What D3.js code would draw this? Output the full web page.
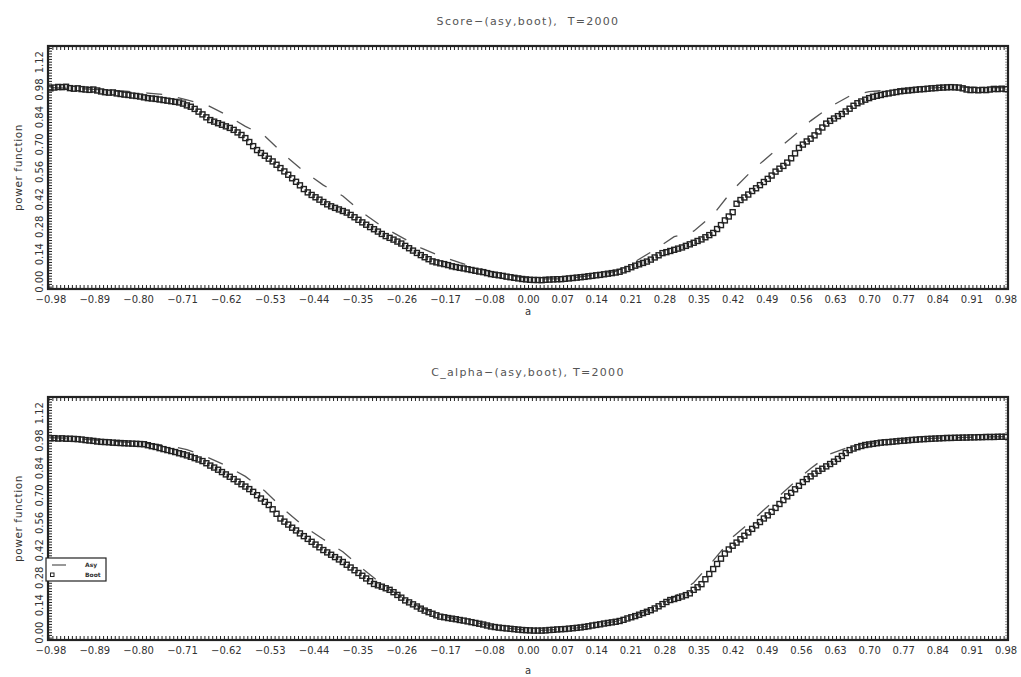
<!DOCTYPE html>
<html>
<head>
<meta charset="utf-8">
<script src="https://cdn.jsdelivr.net/npm/d3@7"></script>
<style>
  body { margin: 0; background: #fff; }
  text { font-family: "DejaVu Sans", "Liberation Sans", sans-serif; }
</style>
</head>
<body>
<svg id="chart" width="1021" height="677"></svg>
<script>
// Grid of the parameter a: bootstrap power is evaluated every 0.008, asymptotic every 0.04
const aStart = -0.98;
const bootStep = 0.008;
const asyStep = 0.04;

const xTickValues = [-0.98, -0.89, -0.80, -0.71, -0.62, -0.53, -0.44, -0.35, -0.26, -0.17, -0.08,
                     0.00, 0.07, 0.14, 0.21, 0.28, 0.35, 0.42, 0.49, 0.56, 0.63, 0.70, 0.77, 0.84, 0.91, 0.98];
const yTickValues = [0.00, 0.14, 0.28, 0.42, 0.56, 0.70, 0.84, 0.98, 1.12];

const titles = ["Score\u2212(asy,boot),  T=2000", "C_alpha\u2212(asy,boot), T=2000"];
const legendLabels = ["Asy", "Boot"];

// Score test, bootstrap rejection frequency
const scoreBoot = [
  0.984, 0.988, 0.991, 0.990, 0.992,
  0.985, 0.982, 0.984, 0.980, 0.978,
  0.976, 0.978, 0.973, 0.968, 0.964,
  0.962, 0.963, 0.958, 0.955, 0.952,
  0.950, 0.947, 0.945, 0.942, 0.938,
  0.934, 0.932, 0.930, 0.927, 0.924,
  0.921, 0.918, 0.915, 0.912, 0.906,
  0.897, 0.890, 0.879, 0.865, 0.851,
  0.836, 0.822, 0.814, 0.806, 0.798,
  0.790, 0.782, 0.772, 0.759, 0.746,
  0.730, 0.710, 0.689, 0.669, 0.654,
  0.640, 0.625, 0.611, 0.594, 0.577,
  0.560, 0.543, 0.525, 0.507, 0.489,
  0.470, 0.453, 0.440, 0.428, 0.416,
  0.404, 0.392, 0.382, 0.374, 0.366,
  0.358, 0.350, 0.338, 0.326, 0.313,
  0.300, 0.288, 0.276, 0.265, 0.253,
  0.241, 0.230, 0.221, 0.212, 0.202,
  0.192, 0.180, 0.168, 0.156, 0.144,
  0.133, 0.122, 0.112, 0.101, 0.096,
  0.091, 0.087, 0.082, 0.076, 0.072,
  0.068, 0.065, 0.061, 0.057, 0.053,
  0.049, 0.046, 0.041, 0.036, 0.033,
  0.030, 0.027, 0.023, 0.020, 0.017,
  0.014, 0.011, 0.009, 0.007, 0.006,
  0.006, 0.005, 0.007, 0.008, 0.009,
  0.010, 0.010, 0.012, 0.014, 0.016,
  0.018, 0.020, 0.022, 0.025, 0.027,
  0.030, 0.032, 0.035, 0.038, 0.041,
  0.044, 0.048, 0.055, 0.062, 0.071,
  0.079, 0.086, 0.093, 0.100, 0.110,
  0.121, 0.132, 0.143, 0.148, 0.154,
  0.160, 0.166, 0.172, 0.180, 0.188,
  0.196, 0.205, 0.213, 0.224, 0.235,
  0.246, 0.266, 0.286, 0.310, 0.330,
  0.352, 0.395, 0.414, 0.427, 0.442,
  0.460, 0.474, 0.490, 0.506, 0.522,
  0.539, 0.559, 0.574, 0.588, 0.605,
  0.627, 0.652, 0.680, 0.697, 0.713,
  0.727, 0.744, 0.764, 0.784, 0.804,
  0.818, 0.830, 0.842, 0.853, 0.866,
  0.880, 0.895, 0.908, 0.917, 0.926,
  0.934, 0.941, 0.946, 0.950, 0.955,
  0.958, 0.962, 0.965, 0.969, 0.971,
  0.973, 0.975, 0.977, 0.979, 0.980,
  0.982, 0.984, 0.985, 0.987, 0.988,
  0.989, 0.990, 0.989, 0.988, 0.984,
  0.978, 0.975, 0.976, 0.974, 0.976,
  0.975, 0.978, 0.981, 0.980, 0.982,
  0.980
];

// Score test, asymptotic rejection frequency
const scoreAsy = [
  0.988, 0.985, 0.980, 0.975, 0.968, 0.960, 0.950, 0.925, 0.900, 0.850,
  0.790, 0.740, 0.645, 0.560, 0.490, 0.435, 0.350, 0.280, 0.225, 0.170,
  0.128, 0.094, 0.065, 0.040, 0.022, 0.012, 0.012, 0.020, 0.032, 0.050,
  0.100, 0.160, 0.227, 0.255, 0.340, 0.465, 0.565, 0.650, 0.730, 0.818,
  0.890, 0.945, 0.967, 0.975, 0.980, 0.985, 0.990, 0.990, 0.988, 0.987
];

// C(alpha) test, bootstrap rejection frequency
const calphaBoot = [
  0.989, 0.990, 0.988, 0.989, 0.987,
  0.987, 0.986, 0.985, 0.983, 0.980,
  0.978, 0.976, 0.973, 0.971, 0.970,
  0.969, 0.967, 0.966, 0.965, 0.964,
  0.963, 0.962, 0.961, 0.960, 0.959,
  0.954, 0.949, 0.945, 0.939, 0.934,
  0.929, 0.924, 0.919, 0.913, 0.908,
  0.902, 0.895, 0.888, 0.881, 0.873,
  0.862, 0.850, 0.840, 0.829, 0.817,
  0.805, 0.793, 0.781, 0.768, 0.755,
  0.743, 0.730, 0.716, 0.699, 0.682,
  0.665, 0.649, 0.627, 0.604, 0.580,
  0.564, 0.549, 0.533, 0.519, 0.504,
  0.490, 0.476, 0.461, 0.447, 0.433,
  0.419, 0.407, 0.395, 0.383, 0.371,
  0.358, 0.344, 0.330, 0.316, 0.302,
  0.288, 0.274, 0.260, 0.246, 0.239,
  0.232, 0.224, 0.216, 0.204, 0.190,
  0.176, 0.162, 0.152, 0.142, 0.131,
  0.120, 0.110, 0.102, 0.094, 0.086,
  0.079, 0.076, 0.072, 0.069, 0.066,
  0.062, 0.059, 0.055, 0.051, 0.047,
  0.043, 0.039, 0.034, 0.029, 0.026,
  0.023, 0.021, 0.019, 0.017, 0.015,
  0.013, 0.011, 0.010, 0.009, 0.008,
  0.008, 0.008, 0.009, 0.011, 0.012,
  0.014, 0.015, 0.016, 0.018, 0.020,
  0.022, 0.024, 0.027, 0.030, 0.034,
  0.037, 0.040, 0.044, 0.047, 0.050,
  0.053, 0.057, 0.063, 0.070, 0.076,
  0.082, 0.089, 0.097, 0.104, 0.112,
  0.121, 0.132, 0.143, 0.154, 0.164,
  0.169, 0.175, 0.182, 0.189, 0.198,
  0.216, 0.229, 0.245, 0.270, 0.297,
  0.322, 0.348, 0.375, 0.401, 0.422,
  0.441, 0.457, 0.474, 0.492, 0.509,
  0.527, 0.545, 0.562, 0.580, 0.596,
  0.614, 0.634, 0.654, 0.674, 0.693,
  0.711, 0.729, 0.747, 0.766, 0.781,
  0.795, 0.809, 0.823, 0.834, 0.846,
  0.858, 0.870, 0.884, 0.899, 0.914,
  0.929, 0.937, 0.944, 0.950, 0.955,
  0.958, 0.961, 0.964, 0.967, 0.969,
  0.970, 0.972, 0.974, 0.976, 0.977,
  0.979, 0.981, 0.982, 0.984, 0.985,
  0.986, 0.987, 0.988, 0.989, 0.990,
  0.991, 0.991, 0.992, 0.992, 0.993,
  0.993, 0.994, 0.994, 0.995, 0.995,
  0.996, 0.996, 0.996, 0.997, 0.997,
  0.997
];

// C(alpha) test, asymptotic rejection frequency
const calphaAsy = [
  0.992, 0.990, 0.983, 0.975, 0.968, 0.962, 0.953, 0.932, 0.895, 0.850,
  0.795, 0.720, 0.625, 0.540, 0.474, 0.410, 0.325, 0.245, 0.180, 0.125,
  0.085, 0.063, 0.045, 0.025, 0.014, 0.009, 0.013, 0.022, 0.037, 0.055,
  0.085, 0.125, 0.180, 0.252, 0.365, 0.485, 0.570, 0.660, 0.750, 0.835,
  0.910, 0.945, 0.962, 0.975, 0.982, 0.988, 0.992, 0.994, 0.996, 0.998
];

const panels = [
  { title: titles[0], boot: scoreBoot, asy: scoreAsy, top: 46, labelY: 26, legend: false },
  { title: titles[1], boot: calphaBoot, asy: calphaAsy, top: 397, labelY: 34, legend: true }
];

const svg = d3.select("#chart");
const left = 48, width = 960, height = 243;
const ink = "#222";

const x = d3.scaleLinear().domain([-0.985, 0.985]).range([0, width]);
const y = d3.scaleLinear().domain([-0.04, 1.2]).range([height, 0]);
const fmt = d3.format(".2f");

const xMinor = d3.range(-0.984, 0.985, 0.008);
const yMinor = d3.range(-0.028, 1.2, 0.014);

panels.forEach(p => {
  const g = svg.append("g").attr("transform", `translate(${left},${p.top})`);

  const bootPts = p.boot.map((v, i) => ({ a: aStart + i * bootStep, v }));
  const asyPts = p.asy.map((v, i) => ({ a: aStart + i * asyStep, v }));

  // title
  g.append("text")
    .attr("x", x(0)).attr("y", -21)
    .attr("text-anchor", "middle")
    .attr("font-size", 11).attr("letter-spacing", 1.3)
    .attr("fill", "#555")
    .style("white-space", "pre")
    .text(p.title);

  // minor ticks on all four sides, pointing inward
  const minorStyle = sel => {
    sel.select(".domain").remove();
    sel.selectAll(".tick line").attr("stroke", ink).attr("stroke-width", 1);
  };
  g.append("g").attr("transform", `translate(0,${height})`)
    .call(d3.axisBottom(x).tickValues(xMinor).tickSize(-4).tickFormat(""))
    .call(minorStyle);
  g.append("g")
    .call(d3.axisTop(x).tickValues(xMinor).tickSize(-4).tickFormat(""))
    .call(minorStyle);
  g.append("g")
    .call(d3.axisLeft(y).tickValues(yMinor).tickSize(-4).tickFormat(""))
    .call(minorStyle);
  g.append("g").attr("transform", `translate(${width},0)`)
    .call(d3.axisRight(y).tickValues(yMinor).tickSize(-3).tickFormat(""))
    .call(minorStyle)
    .selectAll(".tick line").attr("stroke-opacity", 0.45);

  // labelled x axis
  const xa = g.append("g").attr("transform", `translate(0,${height})`)
    .call(d3.axisBottom(x).tickValues(xTickValues).tickSize(0).tickPadding(7).tickFormat(fmt));
  xa.select(".domain").remove();
  xa.selectAll("text")
    .attr("font-size", 10).attr("fill", "#333")
    .attr("font-family", "\"DejaVu Sans\", sans-serif");

  // labelled y axis, rotated labels
  const ya = g.append("g")
    .call(d3.axisLeft(y).tickValues(yTickValues).tickSize(0).tickFormat(fmt));
  ya.select(".domain").remove();
  ya.selectAll("text")
    .attr("transform", "rotate(-90)")
    .attr("x", 0).attr("y", -5).attr("dy", 0)
    .attr("text-anchor", "middle")
    .attr("font-size", 10).attr("fill", "#333")
    .attr("font-family", "\"DejaVu Sans\", sans-serif");

  // axis titles
  g.append("text")
    .attr("x", x(0)).attr("y", height + p.labelY)
    .attr("text-anchor", "middle").attr("font-size", 10).attr("fill", "#333")
    .text("a");
  g.append("text")
    .attr("transform", `translate(-26,${height / 2}) rotate(-90)`)
    .attr("text-anchor", "middle").attr("font-size", 10.5).attr("letter-spacing", 0.6)
    .attr("fill", "#333")
    .text("power function");

  // asymptotic power: dashed line
  g.append("path")
    .datum(asyPts)
    .attr("fill", "none")
    .attr("stroke", "#555")
    .attr("stroke-width", 1.3)
    .attr("stroke-dasharray", "16,16")
    .attr("d", d3.line().x(d => x(d.a)).y(d => y(d.v)));

  // bootstrap power: open squares
  const s = 5;
  g.append("g").selectAll("rect")
    .data(bootPts)
    .join("rect")
    .attr("x", d => x(d.a) - s / 2)
    .attr("y", d => y(d.v) - s / 2)
    .attr("width", s).attr("height", s)
    .attr("fill", "none")
    .attr("stroke", ink)
    .attr("stroke-width", 1.4);

  // frame
  g.append("rect")
    .attr("width", width).attr("height", height)
    .attr("fill", "none").attr("stroke", ink).attr("stroke-width", 2.2);

  // legend
  if (p.legend) {
    const lg = g.append("g").attr("transform", "translate(-2,161)");
    lg.append("rect").attr("width", 60).attr("height", 23)
      .attr("fill", "#fff").attr("stroke", ink).attr("stroke-width", 1.2);
    lg.append("line").attr("x1", 6).attr("x2", 20).attr("y1", 7).attr("y2", 7)
      .attr("stroke", "#444").attr("stroke-width", 1.1);
    lg.append("rect").attr("x", 4.5).attr("y", 15).attr("width", 3.5).attr("height", 3.5)
      .attr("fill", "none").attr("stroke", ink).attr("stroke-width", 1);
    lg.selectAll("text.lab").data(legendLabels).join("text")
      .attr("class", "lab")
      .attr("x", 39).attr("y", (d, i) => 9 + i * 10)
      .attr("font-size", 6).attr("font-weight", "bold").attr("fill", "#333")
      .text(d => d);
  }
});
</script>
</body>
</html>
